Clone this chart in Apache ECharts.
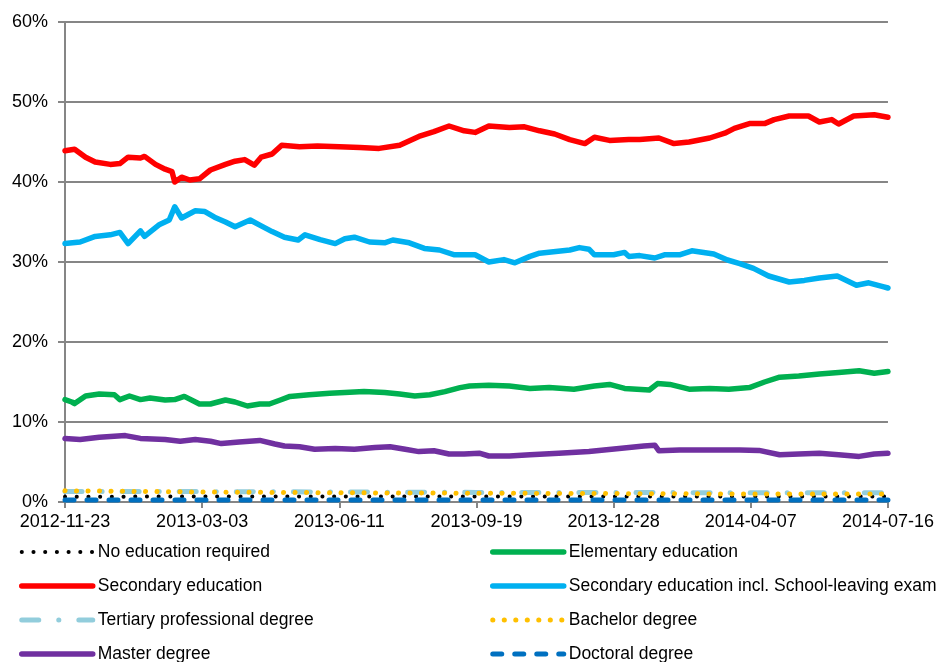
<!DOCTYPE html>
<html>
<head>
<meta charset="utf-8">
<script src="https://cdn.jsdelivr.net/npm/echarts@6/dist/echarts.min.js"></script>
<style>
html,body{margin:0;padding:0;background:#fff;}
#chart{width:937px;height:662px;}
</style>
</head>
<body>
<div id="chart"></div>
<script>
// x values: days since START_DATE
const START_DATE = '2012-11-23';
const X_MAX_DAYS = 600;
const X_TICK_DAYS = 100;
const Y_TICKS = [0, 10, 20, 30, 40, 50, 60];

const seriesNames = [
  'No education required',
  'Elementary education',
  'Secondary education',
  'Secondary education incl. School-leaving exam',
  'Tertiary professional degree',
  'Bachelor degree',
  'Master degree',
  'Doctoral degree'
];

const noEducation = [[0,0.65],[100,0.7],[200,0.7],[300,0.7],[400,0.7],[500,0.7],[600,0.7]];

const elementary = [[0,12.8],[5,12.5],[7,12.3],[15,13.25],[25,13.5],[36,13.4],[40,12.8],[47,13.25],[55,12.8],[62,13.0],[73,12.75],[80,12.8],[87,13.2],[98,12.25],[106,12.25],[117,12.75],[124,12.5],[133,12.0],[142,12.25],[149,12.25],[157,12.75],[164,13.2],[178,13.4],[193,13.6],[204,13.7],[218,13.8],[233,13.7],[244,13.5],[255,13.25],[266,13.4],[277,13.8],[288,14.3],[295,14.5],[309,14.6],[324,14.5],[339,14.2],[353,14.3],[371,14.1],[386,14.5],[397,14.7],[408,14.2],[426,14.0],[432,14.8],[441,14.7],[455,14.1],[470,14.2],[484,14.1],[499,14.3],[510,15.0],[521,15.6],[535,15.75],[550,16.0],[564,16.2],[579,16.4],[590,16.1],[600,16.3]];

const secondary = [[0,43.9],[7,44.1],[15,43.1],[22,42.5],[33,42.2],[40,42.3],[46,43.1],[55,43.0],[58,43.2],[66,42.2],[73,41.6],[78,41.3],[80,40.0],[85,40.6],[91,40.25],[98,40.4],[106,41.5],[117,42.2],[124,42.6],[131,42.8],[138,42.1],[143,43.1],[151,43.5],[158,44.6],[171,44.4],[184,44.5],[200,44.4],[215,44.3],[229,44.2],[244,44.6],[258,45.7],[269,46.3],[280,47.0],[291,46.4],[299,46.2],[309,47.0],[324,46.8],[335,46.9],[346,46.4],[357,46.0],[368,45.3],[379,44.8],[386,45.6],[397,45.2],[411,45.3],[419,45.3],[433,45.5],[444,44.8],[455,45.0],[470,45.5],[481,46.1],[488,46.7],[499,47.3],[510,47.3],[517,47.8],[528,48.25],[542,48.25],[550,47.5],[559,47.8],[564,47.25],[575,48.25],[590,48.4],[600,48.1]];

const secondaryExam = [[0,32.3],[11,32.5],[22,33.2],[33,33.4],[40,33.7],[46,32.3],[55,33.9],[58,33.2],[69,34.7],[76,35.25],[80,36.9],[85,35.5],[95,36.4],[102,36.3],[109,35.6],[117,35.0],[124,34.4],[135,35.25],[142,34.6],[151,33.8],[160,33.1],[170,32.75],[175,33.4],[186,32.8],[197,32.3],[204,32.9],[211,33.1],[222,32.5],[233,32.4],[239,32.75],[251,32.4],[262,31.7],[273,31.5],[284,30.9],[299,30.9],[309,30.0],[320,30.3],[328,29.9],[339,30.7],[346,31.1],[368,31.5],[375,31.8],[382,31.6],[386,30.9],[400,30.9],[408,31.2],[411,30.7],[419,30.8],[430,30.5],[437,30.9],[448,30.9],[457,31.4],[473,31.0],[483,30.25],[492,29.8],[502,29.2],[513,28.25],[528,27.5],[539,27.7],[550,28.0],[563,28.25],[577,27.1],[586,27.4],[597,26.9],[600,26.75]];

const tertiary = [[0,1.3],[100,1.3],[200,1.25],[300,1.2],[400,1.2],[500,1.15],[600,1.15]];

const bachelor = [[0,1.4],[100,1.25],[200,1.15],[300,1.1],[400,1.05],[500,1.0],[600,1.0]];

const master = [[0,7.95],[11,7.8],[25,8.1],[44,8.3],[55,7.95],[73,7.8],[84,7.6],[95,7.8],[106,7.6],[114,7.3],[127,7.5],[142,7.7],[153,7.25],[160,7.0],[171,6.9],[182,6.6],[197,6.7],[211,6.6],[226,6.8],[237,6.9],[248,6.6],[258,6.3],[269,6.4],[280,6.0],[291,6.0],[302,6.1],[309,5.75],[324,5.75],[339,5.9],[360,6.1],[382,6.3],[404,6.7],[422,7.0],[430,7.1],[433,6.4],[448,6.5],[470,6.5],[492,6.5],[506,6.45],[521,5.9],[535,6.0],[550,6.1],[564,5.9],[579,5.7],[590,6.0],[600,6.1]];

const doctoral = [[0,0.25],[100,0.25],[200,0.25],[300,0.25],[400,0.25],[500,0.25],[600,0.25]];

const seriesData = [noEducation, elementary, secondary, secondaryExam, tertiary, bachelor, master, doctoral];

const styles = [
  {color:'#000000', width:4, type:[0.1, 11.6], cap:'round'},
  {color:'#00B050', width:5.5, type:'solid', cap:'round'},
  {color:'#FF0000', width:5.5, type:'solid', cap:'round'},
  {color:'#00B0F0', width:5.5, type:'solid', cap:'round'},
  {color:'#92CDDC', width:5, type:[17, 20, 0.1, 20], cap:'round'},
  {color:'#FFC000', width:5, type:[0.1, 11.4], cap:'round'},
  {color:'#7030A0', width:5.5, type:'solid', cap:'round'},
  {color:'#0070C0', width:5, type:[9, 13], cap:'round'}
];

function fmtDate(days){
  const p = START_DATE.split('-').map(Number);
  const d = new Date(Date.UTC(p[0], p[1]-1, p[2]) + days*86400000);
  const mm = String(d.getUTCMonth()+1).padStart(2,'0');
  const dd = String(d.getUTCDate()).padStart(2,'0');
  return d.getUTCFullYear() + '-' + mm + '-' + dd;
}

const FONT = '"Liberation Sans", Arial, sans-serif';
const chart = echarts.init(document.getElementById('chart'), null, {renderer:'canvas'});

function legendItem(i){
  const s = styles[i];
  return {
    name: seriesNames[i],
    itemStyle: {opacity: 0, color: 'rgba(0,0,0,0)', borderWidth: 0},
    lineStyle: {color: s.color, width: s.width, type: s.type, cap: s.cap, opacity: 1}
  };
}

const legendCommon = {
  orient:'vertical',
  top: 542,
  height: 130,
  itemWidth: 71,
  itemHeight: 14,
  itemGap: 14,
  textStyle:{fontFamily:FONT, fontSize:17.5, color:'#000', lineHeight:20, padding:[0,0,0,0]},
  padding:0,
  selectedMode:false
};

chart.setOption({
  animation:false,
  backgroundColor:'#fff',
  grid:{left:65, right:48, top:22, bottom:160, containLabel:false},
  legend:[
    Object.assign({left:19, data:[0, 2, 4, 6].map(legendItem)}, legendCommon),
    Object.assign({left:490, data:[1, 3, 5, 7].map(legendItem)}, legendCommon)
  ],
  xAxis:{
    type:'value', min:0, max:X_MAX_DAYS, interval:X_TICK_DAYS,
    axisLine:{show:true, lineStyle:{color:'#868686', width:2}},
    axisTick:{show:true, length:6, inside:false, lineStyle:{color:'#868686', width:2}},
    splitLine:{show:false},
    axisLabel:{formatter:fmtDate, fontFamily:FONT, fontSize:18, color:'#000', margin:11, showMinLabel:true, showMaxLabel:true}
  },
  yAxis:{
    type:'value', min:Y_TICKS[0], max:Y_TICKS[Y_TICKS.length-1], interval:10,
    axisLine:{show:true, lineStyle:{color:'#868686', width:2}},
    axisTick:{show:true, length:7, lineStyle:{color:'#868686', width:2}},
    splitLine:{show:true, lineStyle:{color:'#868686', width:2}},
    axisLabel:{formatter:v => v + '%', fontFamily:FONT, fontSize:18, color:'#000', margin:17}
  },
  series: seriesNames.map((name, i) => ({
    name: name,
    type:'line',
    data: seriesData[i],
    symbol:'none',
    smooth:false,
    color: styles[i].color,
    lineStyle:{color:styles[i].color, width:styles[i].width, type:styles[i].type, cap:styles[i].cap, join:'round'},
    z: 2 + i
  }))
});
</script>
</body>
</html>
